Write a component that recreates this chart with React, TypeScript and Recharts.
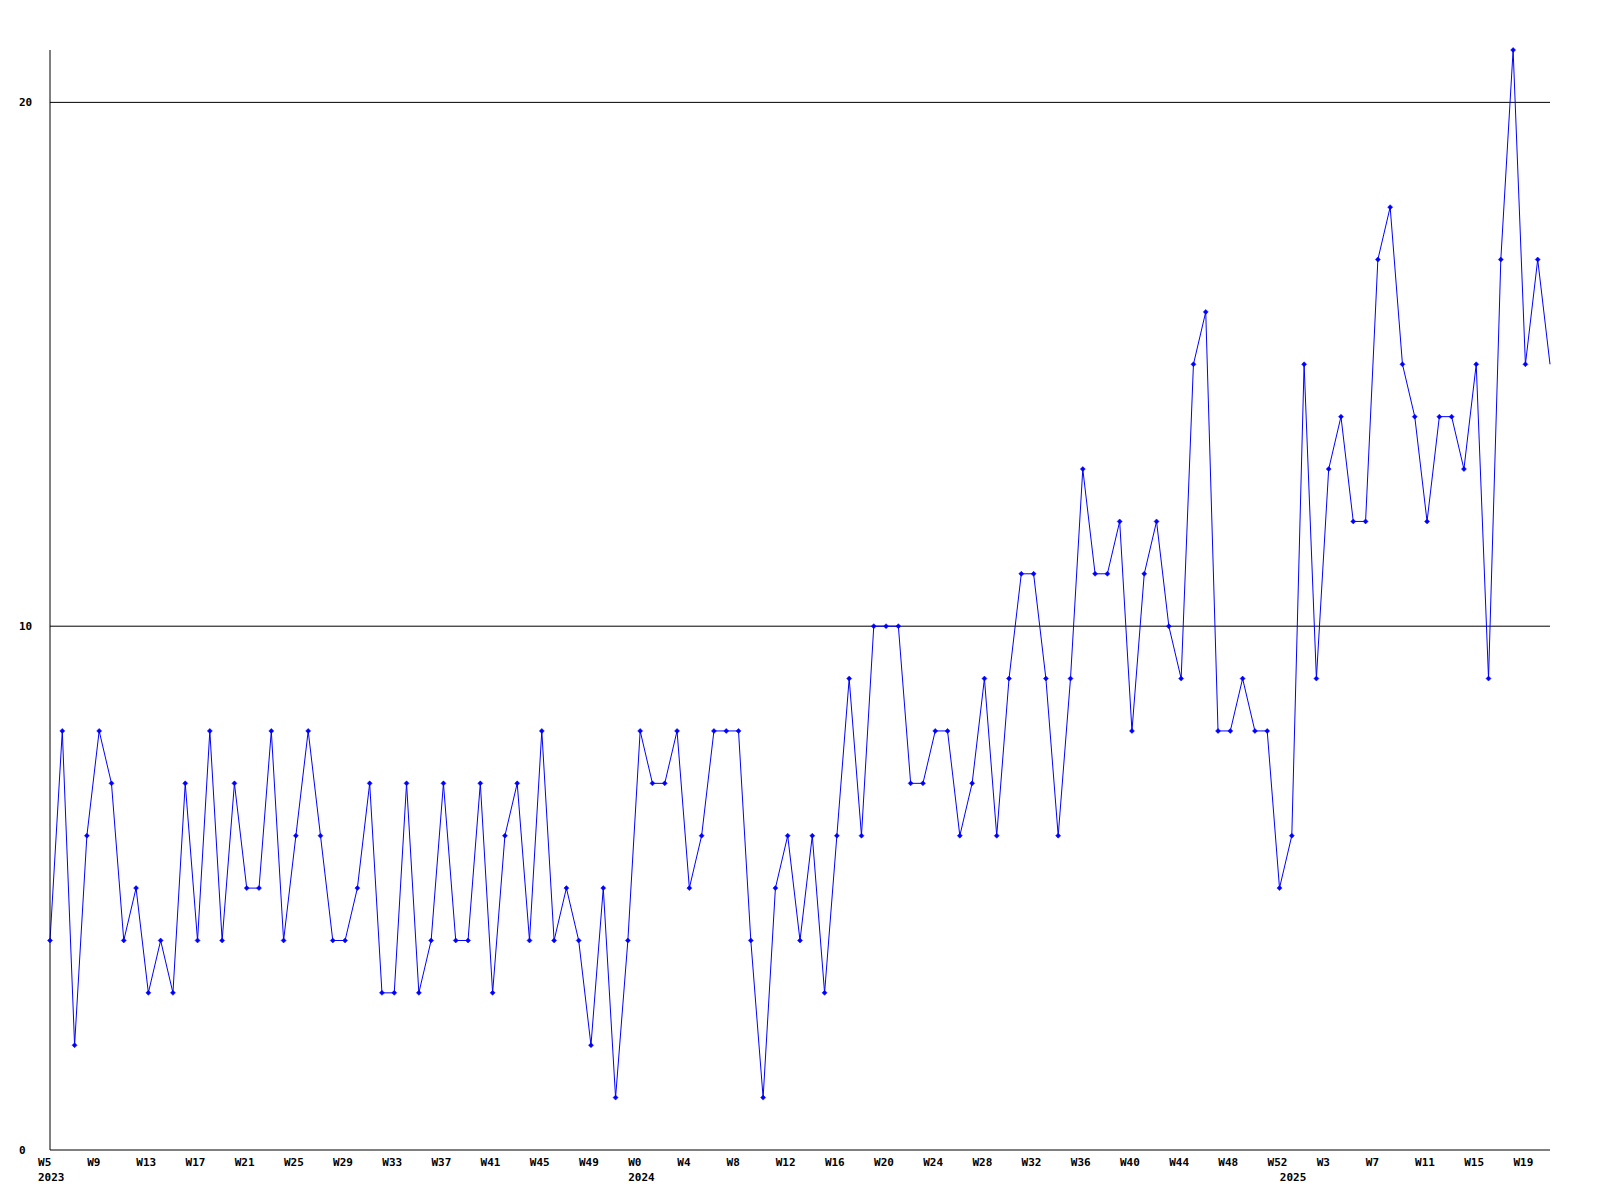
import { LineChart, Line, XAxis, YAxis, ReferenceLine } from 'recharts';

// weekly counts, one array per year
const years = [2023, 2024, 2025];
const firstWeek = [5, 0, 0];
const values2023 = [4, 8, 2, 6, 8, 7, 4, 5, 3, 4, 3, 7, 4, 8, 4, 7, 5, 5, 8, 4, 6, 8, 6, 4, 4, 5, 7, 3, 3, 7, 3, 4, 7, 4, 4, 7, 3, 6, 7, 4, 8, 4, 5, 4, 2, 5, 1, 4];
const values2024 = [8, 7, 7, 8, 5, 6, 8, 8, 8, 4, 1, 5, 6, 4, 6, 3, 6, 9, 6, 10, 10, 10, 7, 7, 8, 8, 6, 7, 9, 6, 9, 11, 11, 9, 6, 9, 13, 11, 11, 12, 8, 11, 12, 10, 9, 15, 16, 8, 8, 9, 8, 8, 5];
const values2025 = [6, 15, 9, 13, 14, 12, 12, 17, 18, 15, 14, 12, 14, 14, 13, 15, 9, 17, 21, 15, 17, 15];

const yTicks = [0, 10, 20];
const labelEvery = 4;

const allValues = [values2023, values2024, values2025];
const data: Array<{ i: number; week: number; year: number; count: number }> = [];
allValues.forEach((vals, y) => {
  vals.forEach((v, k) => {
    data.push({ i: data.length, week: firstWeek[y] + k, year: years[y], count: v });
  });
});
const lastIndex = data.length - 1;
const yearStarts = data.filter((d, k) => k === 0 || data[k - 1].year !== d.year).map((d) => d.i);
const weekTicks = data.filter((d) => d.i % labelEvery === 0).map((d) => d.i);
const xTicks = Array.from(new Set([...weekTicks, ...yearStarts])).sort((a, b) => a - b);

const FONT = '"DejaVu Sans Mono", monospace';

function XTick(props: any) {
  const { x, payload } = props;
  const d = data[payload.value];
  if (!d) return <g />;
  return (
    <g>
      {d.i % labelEvery === 0 && (
        <text x={x - 12} y={1166} textAnchor="start" fontFamily={FONT} fontWeight="bold" fontSize={11} fill="#000">
          W{d.week}
        </text>
      )}
      {yearStarts.includes(d.i) && (
        <text x={x - 12} y={1181} textAnchor="start" fontFamily={FONT} fontWeight="bold" fontSize={11} fill="#000">
          {d.year}
        </text>
      )}
    </g>
  );
}

function YTick(props: any) {
  const { y, payload } = props;
  return (
    <text x={19} y={y + 4} textAnchor="start" fontFamily={FONT} fontWeight="bold" fontSize={11} fill="#000">
      {payload.value}
    </text>
  );
}

function Marker(props: any) {
  const { cx, cy, index } = props;
  if (index === lastIndex || cx == null) return <g key={`m${index}`} />;
  return (
    <path
      key={`m${index}`}
      d={`M${cx - 2.5},${cy} L${cx},${cy - 2.5} L${cx + 2.5},${cy} L${cx},${cy + 2.5} Z`}
      fill="#0000ff"
      stroke="#0000ff"
      strokeWidth={0.5}
    />
  );
}

export default function App() {
  return (
    <div style={{ position: 'absolute', left: 0, top: 0, width: 1600, height: 1200, background: '#fff' }}>
      <LineChart width={1600} height={1200} data={data} margin={{ top: 50, right: 50, bottom: 0, left: 20 }}>
        <XAxis
          dataKey="i"
          type="number"
          domain={[0, lastIndex]}
          ticks={xTicks}
          interval={0}
          tickLine={false}
          axisLine={{ stroke: '#000' }}
          tick={<XTick />}
          height={50}
        />
        <YAxis
          domain={[0, 21]}
          ticks={yTicks}
          width={30}
          tickLine={false}
          axisLine={{ stroke: '#000' }}
          tick={<YTick />}
        />
        {yTicks.filter((t) => t > 0).map((t) => (
          <ReferenceLine key={t} y={t} stroke="#000" />
        ))}
        <Line
          type="linear"
          dataKey="count"
          stroke="#0000ff"
          strokeWidth={1}
          dot={Marker}
          activeDot={false}
          isAnimationActive={false}
        />
      </LineChart>
    </div>
  );
}
